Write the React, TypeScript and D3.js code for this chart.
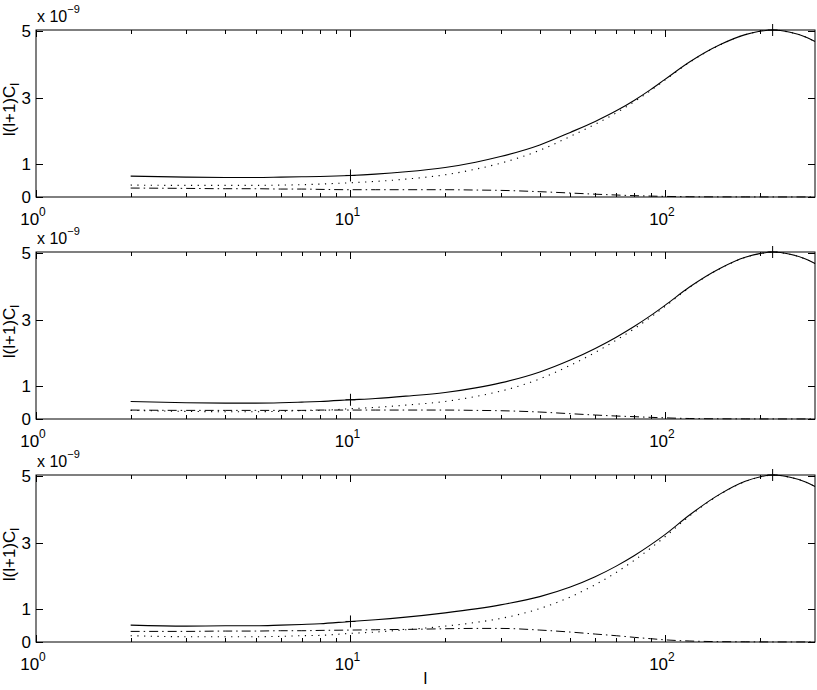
import React, { useRef, useEffect } from 'react';
import * as d3 from 'd3';

// multipole grid
const ells = [2, 3, 4, 5, 6, 7, 8, 10, 12, 15, 20, 25, 30, 40, 50, 60, 70, 80, 90, 100, 120, 150, 180, 200, 220, 250, 280, 300];

// values in units of 1e-9, one set per panel
const total1 = [0.63, 0.60, 0.59, 0.59, 0.60, 0.61, 0.62, 0.65, 0.69, 0.76, 0.89, 1.05, 1.22, 1.57, 1.95, 2.28, 2.60, 2.92, 3.24, 3.55, 4.08, 4.60, 4.90, 5.00, 5.04, 4.97, 4.83, 4.69];
const scalar1 = [0.36, 0.35, 0.35, 0.35, 0.36, 0.37, 0.39, 0.43, 0.47, 0.54, 0.67, 0.84, 1.02, 1.41, 1.83, 2.195, 2.54, 2.88, 3.21, 3.53, 4.07, 4.596, 4.897, 4.998, 5.038, 4.969, 4.829, 4.689];
const tensor1 = [0.27, 0.26, 0.25, 0.25, 0.24, 0.24, 0.23, 0.22, 0.22, 0.22, 0.22, 0.21, 0.20, 0.16, 0.12, 0.085, 0.06, 0.04, 0.028, 0.018, 0.008, 0.004, 0.003, 0.002, 0.002, 0.001, 0.001, 0.001];

const total2 = [0.53, 0.49, 0.48, 0.48, 0.49, 0.51, 0.53, 0.58, 0.62, 0.69, 0.80, 0.94, 1.09, 1.42, 1.78, 2.13, 2.47, 2.80, 3.12, 3.43, 3.99, 4.55, 4.88, 4.99, 5.04, 4.97, 4.83, 4.69];
const scalar2 = [0.26, 0.23, 0.22, 0.22, 0.23, 0.25, 0.26, 0.31, 0.35, 0.42, 0.53, 0.68, 0.84, 1.21, 1.62, 2.01, 2.38, 2.73, 3.07, 3.395, 3.975, 4.544, 4.877, 4.988, 5.038, 4.969, 4.829, 4.689];
const tensor2 = [0.27, 0.26, 0.26, 0.26, 0.26, 0.26, 0.27, 0.27, 0.27, 0.27, 0.27, 0.26, 0.25, 0.21, 0.16, 0.12, 0.09, 0.07, 0.05, 0.035, 0.015, 0.006, 0.003, 0.002, 0.002, 0.001, 0.001, 0.001];

const total3 = [0.51, 0.48, 0.49, 0.49, 0.51, 0.53, 0.55, 0.62, 0.67, 0.75, 0.88, 1.00, 1.12, 1.37, 1.66, 1.97, 2.29, 2.61, 2.93, 3.24, 3.84, 4.47, 4.85, 4.98, 5.04, 4.97, 4.83, 4.69];
const scalar3 = [0.19, 0.16, 0.16, 0.16, 0.17, 0.19, 0.20, 0.26, 0.30, 0.37, 0.48, 0.59, 0.71, 1.01, 1.36, 1.73, 2.10, 2.47, 2.83, 3.175, 3.81, 4.46, 4.844, 4.977, 5.038, 4.969, 4.829, 4.689];
const tensor3 = [0.32, 0.32, 0.33, 0.33, 0.34, 0.34, 0.35, 0.36, 0.37, 0.38, 0.40, 0.41, 0.41, 0.36, 0.30, 0.24, 0.19, 0.14, 0.10, 0.065, 0.03, 0.01, 0.006, 0.003, 0.002, 0.001, 0.001, 0.001];

const panels = [
  { total: total1, scalar: scalar1, tensor: tensor1 },
  { total: total2, scalar: scalar2, tensor: tensor2 },
  { total: total3, scalar: scalar3, tensor: tensor3 },
];

const yTicks = [0, 1, 3, 5];
const xMajor = [1, 10, 100];
const xMinor = [2, 3, 4, 5, 6, 7, 8, 9, 20, 30, 40, 50, 60, 70, 80, 90, 200];
const markerEll = [10, 220];

const W = 817;
const H = 690;
const left = 36;
const right = 815;
const panelTops = [30, 252, 475];
const panelH = 167;
const font = '"Liberation Sans", Arial, Helvetica, sans-serif';

const App = () => {
  const svgRef = useRef(null);

  useEffect(() => {
    const svg = d3.select(svgRef.current);
    svg.selectAll('*').remove();

    const x = d3.scaleLog().domain([1, 300]).range([left, right]);

    panels.forEach((p, i) => {
      const top = panelTops[i];
      const bottom = top + panelH;
      const y = d3.scaleLinear().domain([0, 5.04]).range([bottom, top]);
      const g = svg.append('g');

      const line = (vals) => d3.line()
        .x((d, k) => x(ells[k]))
        .y(d => y(d))
        .curve(d3.curveMonotoneX)(vals);

      g.append('path').attr('d', line(p.scalar)).attr('fill', 'none')
        .attr('stroke', '#000').attr('stroke-width', 1.1).attr('stroke-dasharray', '1.2,5.5');
      g.append('path').attr('d', line(p.tensor)).attr('fill', 'none')
        .attr('stroke', '#000').attr('stroke-width', 1).attr('stroke-dasharray', '9,4,1.5,4');
      g.append('path').attr('d', line(p.total)).attr('fill', 'none')
        .attr('stroke', '#000').attr('stroke-width', 1.1);

      // data markers
      markerEll.forEach(l => {
        const k = ells.indexOf(l);
        const cx = x(l), cy = y(p.total[k]);
        g.append('line').attr('x1', cx).attr('x2', cx).attr('y1', cy - 6).attr('y2', cy + 6).attr('stroke', '#000');
        g.append('line').attr('x1', cx - 5).attr('x2', cx + 5).attr('y1', cy).attr('y2', cy).attr('stroke', '#000');
      });

      // box
      g.append('rect').attr('x', left).attr('y', top).attr('width', right - left).attr('height', panelH)
        .attr('fill', 'none').attr('stroke', '#000').attr('stroke-width', 1);

      // x ticks, bottom and top
      xMajor.concat(xMinor).forEach(l => {
        const len = xMajor.includes(l) ? 7 : 4;
        const xx = Math.round(x(l)) + 0.5;
        g.append('line').attr('x1', xx).attr('x2', xx).attr('y1', bottom).attr('y2', bottom - len).attr('stroke', '#000');
        g.append('line').attr('x1', xx).attr('x2', xx).attr('y1', top).attr('y2', top + len).attr('stroke', '#000');
      });
      xMajor.forEach((l, k) => {
        const t = g.append('text').attr('x', x(l) - 3).attr('y', bottom + 28)
          .attr('text-anchor', 'middle').attr('font-family', font).attr('font-size', 17);
        t.append('tspan').text('10');
        t.append('tspan').attr('dy', -9).attr('font-size', 12).text(String(k));
      });

      // y ticks, left and right
      yTicks.forEach(v => {
        const yy = Math.round(y(v)) + 0.5;
        g.append('line').attr('x1', left).attr('x2', left + 7).attr('y1', yy).attr('y2', yy).attr('stroke', '#000');
        g.append('line').attr('x1', right).attr('x2', right - 7).attr('y1', yy).attr('y2', yy).attr('stroke', '#000');
        g.append('text').attr('x', left - 5).attr('y', y(v) + 6).attr('text-anchor', 'end')
          .attr('font-family', font).attr('font-size', 17).text(String(v));
      });

      // exponent label
      const ex = g.append('text').attr('x', left + 1).attr('y', top - 8)
        .attr('font-family', font).attr('font-size', 16);
      ex.append('tspan').text('x 10');
      ex.append('tspan').attr('dy', -9).attr('font-size', 11).text('\u22129');

      // y label
      const yl = g.append('text')
        .attr('transform', `translate(${15},${(top + bottom) / 2 - 4}) rotate(-90)`)
        .attr('text-anchor', 'middle').attr('font-family', font).attr('font-size', 17);
      yl.append('tspan').text('l(l+1)C');
      yl.append('tspan').attr('dy', 4).attr('font-size', 13).text('l');
    });

    svg.append('text').attr('x', (left + right) / 2).attr('y', 684).attr('text-anchor', 'middle')
      .attr('font-family', font).attr('font-size', 17).text('l');
  }, []);

  return (
    <svg ref={svgRef} width={W} height={H}
      style={{ position: 'absolute', left: 0, top: 0, background: '#fff' }} />
  );
};

export default App;
